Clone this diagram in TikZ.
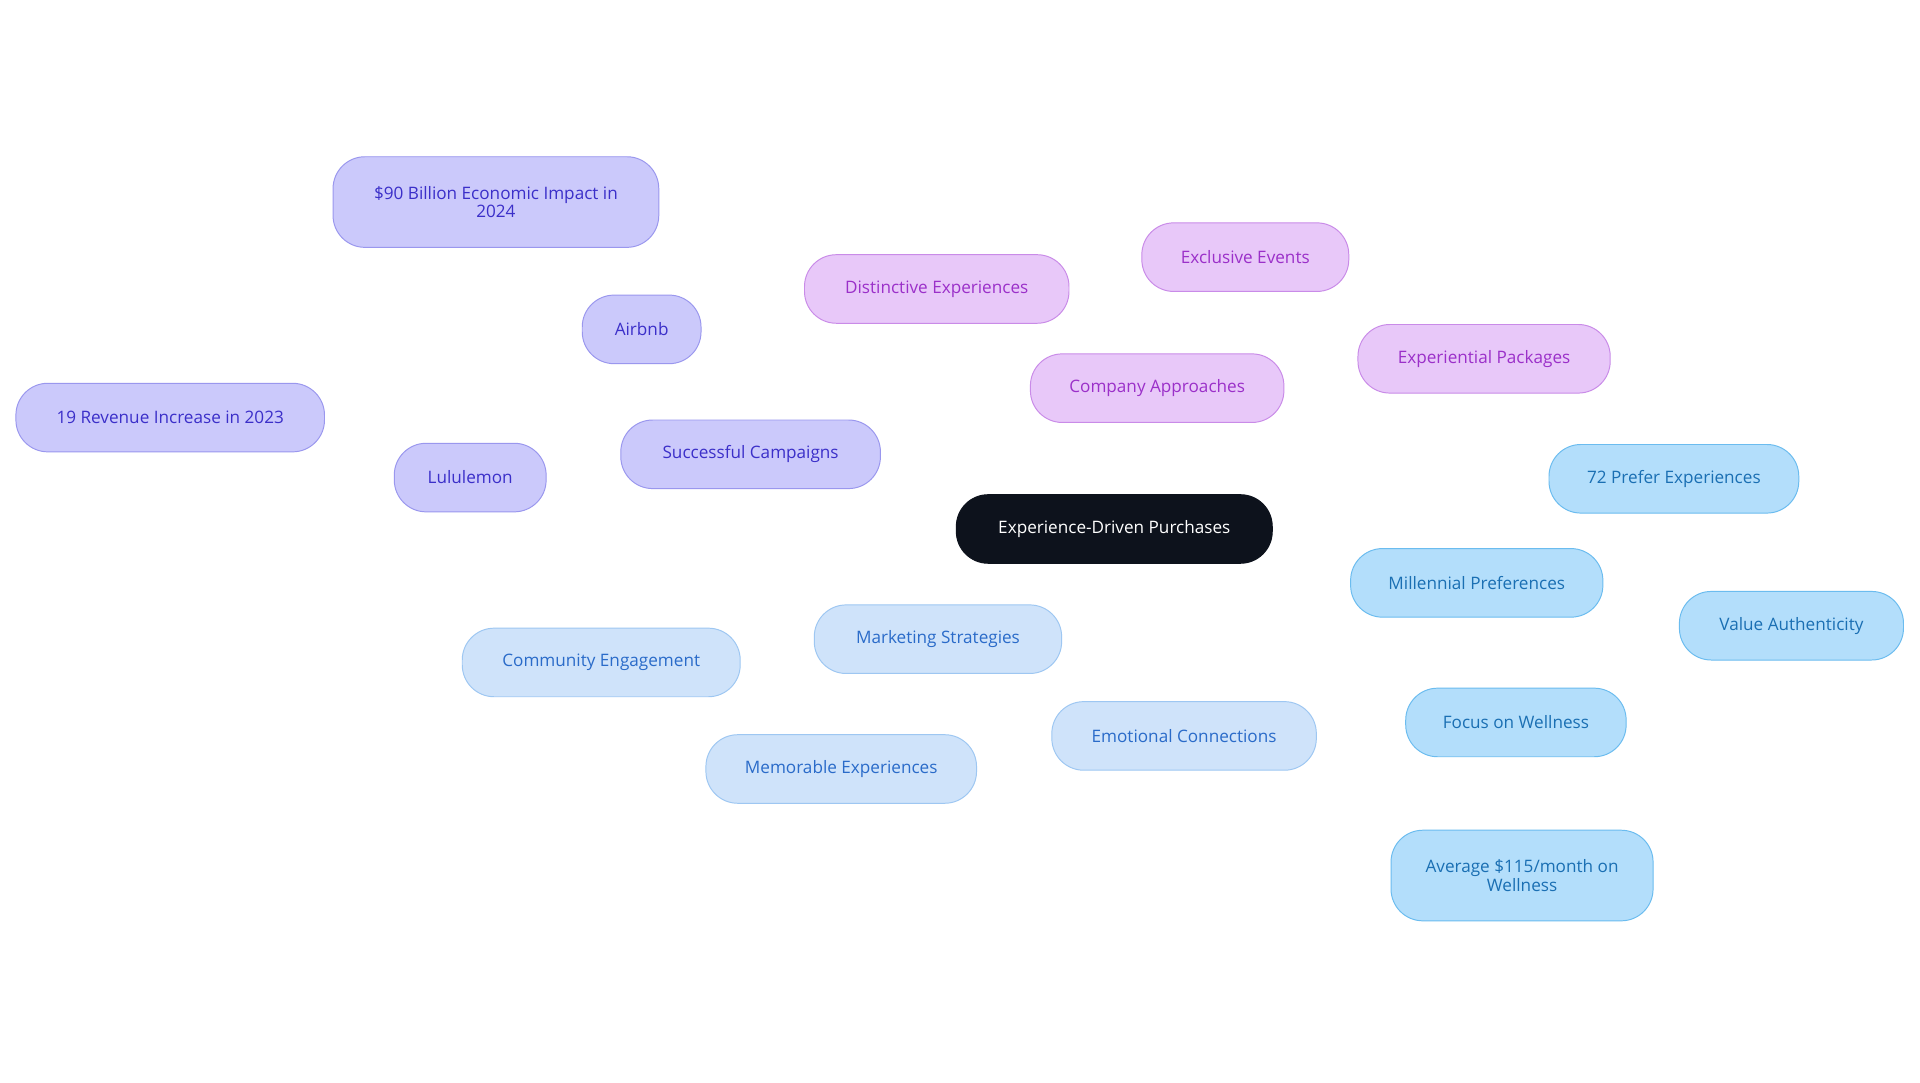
\documentclass[tikz,border=0pt]{standalone}
\usepackage{fontspec}
\setmainfont{Open Sans}
\usetikzlibrary{backgrounds}
\definecolor{pF}{HTML}{CBC9FB}\definecolor{pD}{HTML}{9A97EE}\definecolor{pT}{HTML}{3B2FC9}
\definecolor{kF}{HTML}{E8C8F9}\definecolor{kD}{HTML}{C98BE8}\definecolor{kT}{HTML}{9B30C9}
\definecolor{lF}{HTML}{CFE3FA}\definecolor{lD}{HTML}{9EC7F2}\definecolor{lT}{HTML}{2A6BC9}
\definecolor{sF}{HTML}{B3DEFB}\definecolor{sD}{HTML}{6BBCEF}\definecolor{sT}{HTML}{1A6FB3}
\definecolor{rF}{HTML}{0D121C}
\begin{document}
\begin{tikzpicture}[x=1pt,y=-1pt,
 box/.style={rounded corners=26pt,minimum height=56pt,inner sep=2pt,align=center,font=\fontsize{14}{15}\selectfont,line width=0.8pt},
 pn/.style={box,fill=pF,draw=pD,text=pT},
 kn/.style={box,fill=kF,draw=kD,text=kT},
 ln/.style={box,fill=lF,draw=lD,text=lT},
 sn/.style={box,fill=sF,draw=sD,text=sT},
 rn/.style={box,fill=rF,draw=rF,text=white},
 pe/.style={draw=pD,line width=2pt},
 ke/.style={draw=kD,line width=2pt},
 le/.style={draw=lD,line width=2pt},
 se/.style={draw=sD,line width=2pt}]
\useasboundingbox[fill=white] (0,0) rectangle (1568,884);
\node[rn,minimum width=258pt] (root) at (910,432) {Experience-Driven Purchases};
\node[pn,minimum width=212pt] (sc) at (613,371) {Successful Campaigns};
\node[pn,minimum width=97pt] (air) at (524,269) {Airbnb};
\node[pn,minimum width=266pt,minimum height=74pt] (b90) at (405,165) {\$90 Billion Economic Impact in\\2024};
\node[pn,minimum width=124pt] (lulu) at (384,390) {Lululemon};
\node[pn,minimum width=252pt] (rev) at (139,341) {19 Revenue Increase in 2023};
\node[kn,minimum width=207pt] (ca) at (945,317) {Company Approaches};
\node[kn,minimum width=216pt] (de) at (765,236) {Distinctive Experiences};
\node[kn,minimum width=169pt] (ee) at (1017,210) {Exclusive Events};
\node[kn,minimum width=206pt] (ep) at (1212,293) {Experiential Packages};
\node[sn,minimum width=206pt] (mp) at (1206,476) {Millennial Preferences};
\node[sn,minimum width=204pt] (pe72) at (1367,391) {72 Prefer Experiences};
\node[sn,minimum width=183pt] (va) at (1463,511) {Value Authenticity};
\node[sn,minimum width=180pt] (fw) at (1238,590) {Focus on Wellness};
\node[sn,minimum width=214pt,minimum height=74pt] (avg) at (1243,715) {Average \$115/month on\\Wellness};
\node[ln,minimum width=202pt] (ms) at (766,522) {Marketing Strategies};
\node[ln,minimum width=227pt] (ce) at (491,541) {Community Engagement};
\node[ln,minimum width=221pt] (me) at (687,628) {Memorable Experiences};
\node[ln,minimum width=216pt] (ec) at (967,601) {Emotional Connections};
\begin{scope}[on background layer]
\path[pe] (root)--(sc) (sc)--(air) (air)--(b90) (sc)--(lulu) (lulu)--(rev);
\path[ke] (root)--(ca) (ca)--(de) (ca)--(ee) (ca)--(ep);
\path[se] (root)--(mp) (mp)--(pe72) (mp)--(va) (mp)--(fw) (fw)--(avg);
\path[le] (root)--(ms) (ms)--(ce) (ms)--(me) (ms)--(ec);
\end{scope}
\end{tikzpicture}
\end{document}
